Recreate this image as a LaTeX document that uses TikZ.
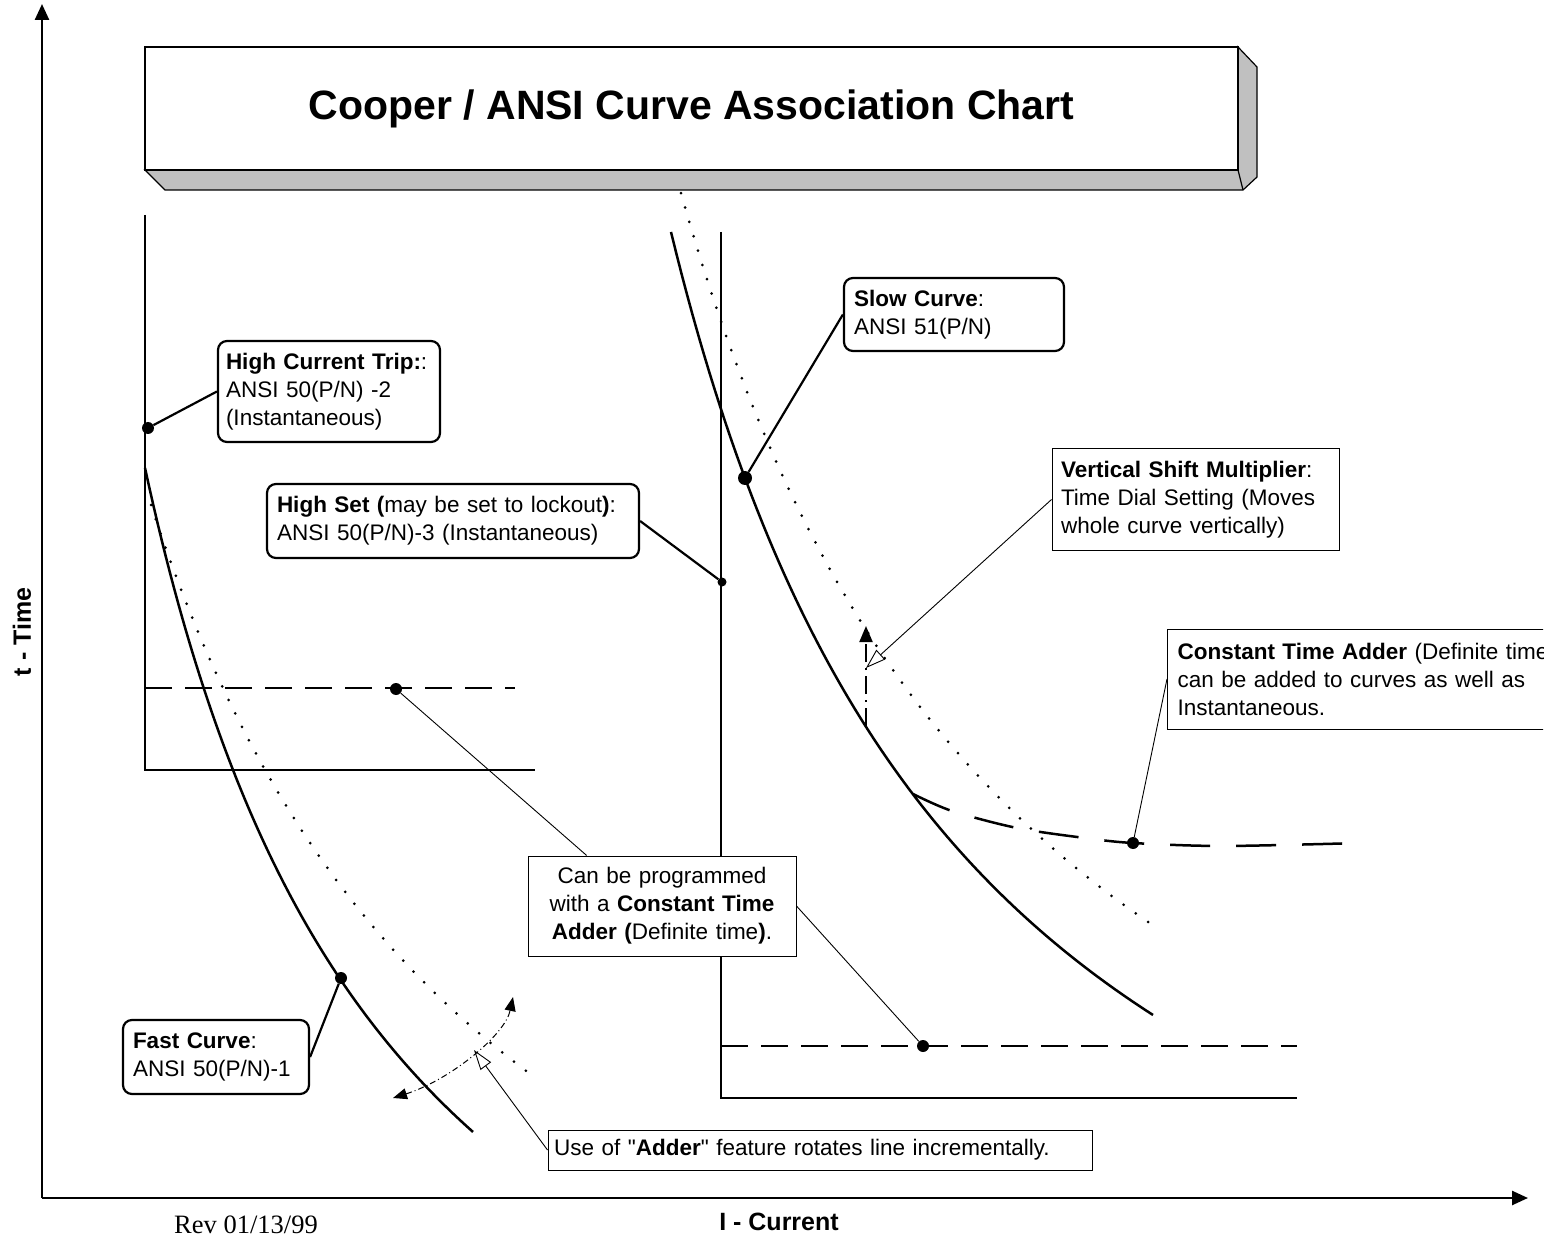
\documentclass[tikz,border=0pt]{standalone}
\usepackage{fontspec}
\setmainfont{Liberation Sans}
\newfontfamily\plainfont{Liberation Sans}
\newfontfamily\revfont{Liberation Serif}
\usetikzlibrary{arrows.meta, calc}

\definecolor{boxgray}{HTML}{C0C0C0}

\tikzset{
  callout/.style={draw, line width=2.2pt, rounded corners=9pt, fill=white, align=left,
    inner xsep=8pt, inner ysep=0pt, font=\fontsize{22.5}{28}\selectfont},
  note/.style={draw, line width=1pt, fill=white, align=left,
    inner xsep=8pt, inner ysep=0pt, font=\fontsize{22.5}{28}\selectfont},
  dot/.style={circle, fill, inner sep=0pt, minimum size=12pt},
  curve/.style={line width=2.5pt},
  dotcurve/.style={line width=3pt, line cap=round, dash pattern=on 0pt off 15pt},
  dashline/.style={line width=2.2pt, dash pattern=on 27pt off 13pt},
  lead/.style={line width=2.2pt},
  thinlead/.style={line width=0.9pt},
  hollow/.style={-{Triangle[open, length=20pt, width=13pt]}},
  solidtip/.style={-{Triangle[length=16pt, width=13pt]}}
}

\begin{document}
\begin{tikzpicture}[x=1pt, y=-1pt]
\useasboundingbox (0,0) rectangle (1559,1238);

% axes
\draw[line width=2.5pt, -{Triangle[length=16pt, width=14pt]}] (42,1198) -- (42,4);
\draw[line width=2.5pt, -{Triangle[length=16pt, width=14pt]}] (42,1198) -- (1528,1198);
\node (tlabel) at (22,632) [rotate=90, font=\bfseries\fontsize{25}{30}\selectfont] {t - Time};
\node (ilabel) at (779,1222) [font=\bfseries\fontsize{25}{30}\selectfont] {I - Current};
\node (rev) at (246,1225) [font=\revfont\fontsize{26.5}{30}\selectfont] {Rev 01/13/99};

% title box
\draw[line width=1.2pt, fill=boxgray] (145,170) -- (1238,170) -- (1238,47) -- (1257,67)
  -- (1257,177) -- (1243,190) -- (165,190) -- cycle;
\draw[line width=1.2pt] (1238,170) -- (1243,190);
\node (title) at (691.5,108.5) [draw, line width=1.2pt, fill=white, minimum width=1093pt,
  minimum height=123pt, inner sep=0pt, font=\bfseries\fontsize{41}{48}\selectfont]
  {Cooper / ANSI Curve Association Chart};

% left chart
\draw[curve] (145,215) -- (145,770) -- (535,770);
\draw[dashline] (145,688) -- (515,688);
\draw[curve] plot[domain=145:473, samples=80] (\x, {1652.6 - 3046.9/((\x+112.2)/100)});
\draw[dotcurve] plot[domain=151:533, samples=80] (\x, {1628.9 - 4157.3/((\x+218.9)/100)});

% right chart
\draw[curve] (721,232) -- (721,1098) -- (1297,1098);
\draw[dashline] (721,1046) -- (1297,1046);
\draw[curve] plot[domain=671:1153, samples=90] (\x, {1527.5 - 4087.4/((\x-355.5)/100)});
\draw[dotcurve] plot[domain=681:1157, samples=90] (\x, {1492.1 - 4745.5/((\x-315.7)/100)});
\draw[line width=2.5pt, dash pattern=on 40pt off 26pt] plot[smooth] coordinates
  {(913,794) (952,811) (1017,828) (1085,838) (1133,843) (1223,846) (1360,843)};

% shift and rotate arrows
\coordinate (shiftfoot) at (866,726);
\coordinate (shifttop) at (866,626);
\coordinate (shift) at (866,668);
\coordinate (rotlow) at (393,1098);
\coordinate (rothigh) at (513,997);
\coordinate (rot) at (474,1050);
\draw[line width=2pt, dash pattern=on 18pt off 6pt on 2pt off 6pt, solidtip] (shiftfoot) -- (shifttop);
\draw[line width=1pt, dash pattern=on 6pt off 3pt on 1pt off 3pt,
  {Triangle[length=14pt, width=11pt]}-{Triangle[length=14pt, width=11pt]}]
  (rotlow) .. controls (450,1080) and (505,1035) .. (rothigh);

% dots
\node (dhct) at (148,428) [dot] {};
\node (dhset) at (722,582) [dot, minimum size=9pt] {};
\node (dslow) at (745,478) [dot, minimum size=14pt] {};
\node (dfast) at (341,978) [dot] {};
\node (dcta) at (1133,843) [dot] {};
\node (dleft) at (396,689) [dot] {};
\node (dright) at (923,1046) [dot] {};

% labels
\node (hct) at (329,391.5) [callout, text width=206pt, minimum height=101pt]
  {\textbf{High Current Trip:}:\\ANSI 50(P/N) -2\\(Instantaneous)};
\node (hset) at (453,521) [callout, inner xsep=10pt, text width=352pt, minimum height=74pt]
  {\textbf{High Set (}may be set to lockout\textbf{)}:\\ANSI 50(P/N)-3 (Instantaneous)};
\node (slow) at (954,314.5) [callout, inner xsep=10pt, text width=200pt, minimum height=73pt]
  {\textbf{Slow Curve}:\\ANSI 51(P/N)};
\node (fast) at (216,1057) [callout, inner xsep=10pt, text width=166pt, minimum height=74pt]
  {\textbf{Fast Curve}:\\ANSI 50(P/N)-1};
\node (vsm) at (1195.5,499.5) [note, inner xsep=9pt, text width=269pt, minimum height=101pt]
  {\textbf{Vertical Shift Multiplier}:\\Time Dial Setting (Moves\\whole curve vertically)};
\node (prog) at (662,906) [note, text width=252pt, minimum height=100pt, align=center]
  {Can be programmed\\with a \textbf{Constant Time}\\\textbf{Adder (}Definite time\textbf{)}.};
\node (adder) at (820,1150) [note, text width=532pt, inner xsep=6pt, minimum height=40pt,
  font=\plainfont\fontsize{22.5}{28}\selectfont]
  {Use of "\textbf{Adder}" feature rotates line incrementally.};
\begin{scope}
\clip (1150,600) rectangle (1543,740);
\node (cta) at (1167,679) [note, anchor=west, text width=420pt, inner xsep=10pt, minimum height=100pt]
  {\textbf{Constant Time Adder} (Definite time)\\can be added to curves as well as\\Instantaneous.};
\end{scope}

% leads
\draw[lead] (hct.west) -- (dhct);
\draw[lead] (hset.east) -- (dhset);
\draw[lead] (slow.west) -- (dslow);
\draw[lead] (fast.east) -- (dfast);
\draw[thinlead] (cta.west) -- (dcta);
\draw[thinlead] ($(prog.north west)!0.22!(prog.north east)$) -- (dleft);
\draw[thinlead] (prog.east) -- (dright);
\draw[thinlead, hollow] (vsm.west) -- (shift);
\draw[thinlead, hollow] (adder.west) -- (rot);

\end{tikzpicture}
\end{document}
